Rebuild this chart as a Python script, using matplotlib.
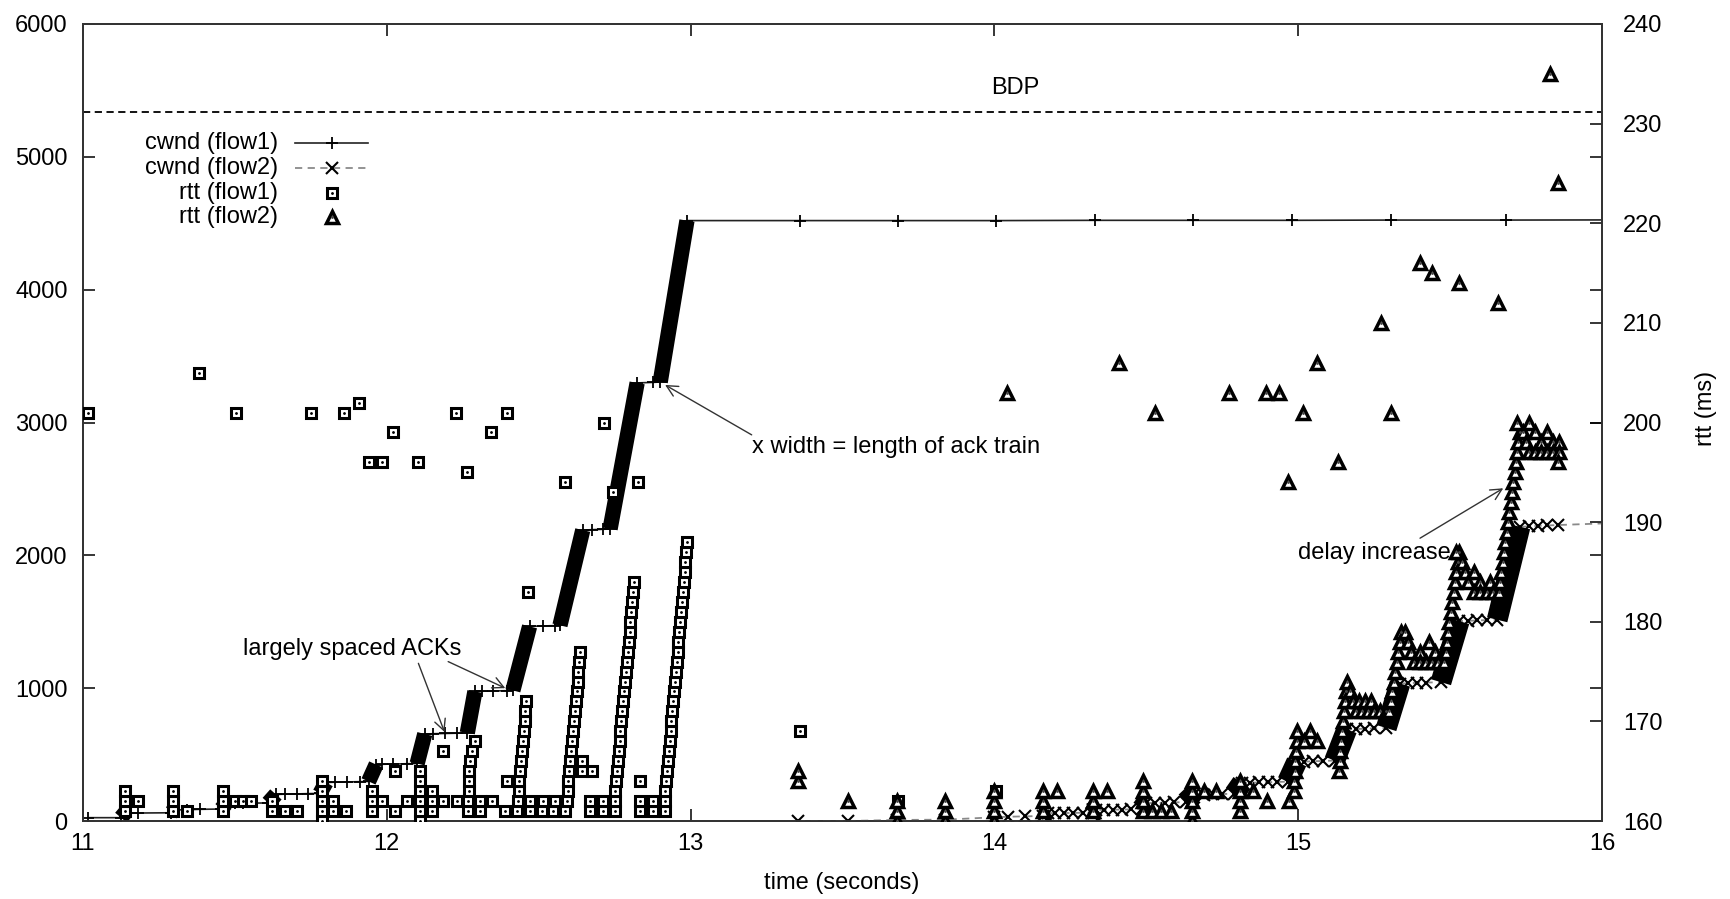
import matplotlib.pyplot as plt

plt.rcParams['font.family'] = ['Liberation Sans', 'DejaVu Sans']
FS = 17

# congestion window of flow 1 (one point per ACK burst)
cwnd1_t = [11.017, 11.125, 11.138, 11.182, 11.29, 11.30, 11.341, 11.385, 11.455,
           11.47, 11.50, 11.527, 11.61, 11.635, 11.665, 11.704, 11.74, 11.78,
           11.80, 11.83, 11.868, 11.912, 11.94, 11.965, 11.985, 12.022, 12.066,
           12.10, 12.125, 12.152, 12.192, 12.231, 12.265, 12.29, 12.313, 12.35,
           12.395, 12.415, 12.47, 12.514, 12.554, 12.57, 12.645, 12.675, 12.712,
           12.735, 12.824, 12.876, 12.90, 12.988, 13.36, 13.683, 14.005, 14.331,
           14.655, 14.98, 15.305, 15.684, 16.0]
cwnd1 = [25, 25, 60, 60, 62, 83, 85, 88, 90,
         130, 132, 134, 136, 200, 202, 204, 206, 208,
         290, 292, 294, 296, 298, 425, 427, 429, 431,
         433, 655, 657, 659, 661, 663, 975, 977, 979,
         981, 983, 1465, 1468, 1471, 1473, 2190, 2193, 2196,
         2199, 3298, 3302, 3305, 4520, 4520, 4520, 4520, 4522,
         4522, 4522, 4524, 4524, 4525]

# congestion window of flow 2
cwnd2_t = [13.353, 13.518, 13.68, 13.837, 14.00, 14.045, 14.10, 14.16,
           14.175, 14.20, 14.23, 14.26, 14.29, 14.32,
           14.335, 14.36, 14.39, 14.42, 14.45, 14.485,
           14.50, 14.53, 14.56, 14.59, 14.63,
           14.655, 14.69, 14.72, 14.75, 14.79,
           14.815, 14.84, 14.87, 14.90, 14.93, 14.965,
           14.995, 15.02, 15.05, 15.08, 15.12,
           15.16, 15.19, 15.22, 15.25, 15.29,
           15.335, 15.36, 15.39, 15.42, 15.47,
           15.53, 15.56, 15.59, 15.62, 15.655,
           15.73, 15.76, 15.79, 15.82, 15.855, 16.0]
cwnd2 = [0, 0, 8, 10, 28, 32, 35, 38,
         60, 60, 60, 61, 62, 62,
         83, 83, 85, 86, 88, 90,
         135, 136, 138, 140, 142,
         196, 198, 200, 203, 205,
         286, 288, 290, 292, 294, 296,
         445, 447, 450, 452, 455,
         690, 692, 695, 698, 700,
         1035, 1037, 1040, 1042, 1045,
         1505, 1507, 1510, 1512, 1515,
         2215, 2218, 2222, 2225, 2228, 2240]

# rtt samples of flow 1 (time s, rtt ms)
rtt1 = [
    (11.016, 201), (11.138, 161), (11.138, 162), (11.138, 163), (11.182, 162),
    (11.297, 161), (11.297, 162), (11.297, 163), (11.341, 161), (11.382, 205),
    (11.462, 161), (11.462, 162), (11.462, 163), (11.50, 162), (11.504, 201),
    (11.528, 162), (11.552, 162), (11.621, 161), (11.621, 162), (11.665, 161),
    (11.703, 161), (11.75, 201), (11.786, 160), (11.786, 161), (11.786, 162),
    (11.786, 163), (11.786, 164), (11.824, 161), (11.824, 162), (11.866, 161),
    (11.859, 201), (11.908, 202), (11.94, 196), (11.95, 161), (11.95, 162),
    (11.95, 163), (11.983, 162), (11.984, 196), (12.02, 199), (12.027, 161),
    (12.027, 165), (12.066, 162), (12.103, 196), (12.11, 160), (12.11, 161),
    (12.11, 162), (12.11, 163), (12.11, 164), (12.11, 165), (12.148, 161),
    (12.148, 162), (12.148, 163), (12.186, 162), (12.186, 167), (12.23, 162),
    (12.228, 201), (12.264, 195), (12.268, 161), (12.268, 162), (12.27, 163),
    (12.27, 164), (12.27, 165), (12.275, 166), (12.28, 167), (12.29, 168),
    (12.307, 161), (12.307, 162), (12.345, 162), (12.343, 199), (12.389, 161),
    (12.395, 164), (12.395, 201), (12.428, 161), (12.433, 162), (12.436, 163),
    (12.436, 164), (12.44, 165), (12.443, 166), (12.446, 167), (12.449, 168),
    (12.452, 169), (12.455, 170), (12.455, 171), (12.458, 172), (12.465, 183),
    (12.471, 161), (12.471, 162), (12.510, 161), (12.515, 162), (12.548, 161),
    (12.554, 162), (12.587, 161), (12.592, 162), (12.595, 163), (12.598, 164),
    (12.601, 165), (12.604, 166), (12.607, 167), (12.61, 168), (12.613, 169),
    (12.616, 170), (12.619, 171), (12.622, 172), (12.625, 173), (12.628, 174),
    (12.631, 175), (12.634, 176), (12.637, 177), (12.587, 194), (12.641, 165),
    (12.641, 166), (12.675, 165), (12.669, 161), (12.669, 162), (12.713, 161),
    (12.713, 162), (12.715, 200), (12.745, 193), (12.751, 161), (12.751, 162),
    (12.751, 163), (12.754, 164), (12.757, 165), (12.760, 166), (12.763, 167),
    (12.766, 168), (12.769, 169), (12.772, 170), (12.775, 171), (12.778, 172),
    (12.781, 173), (12.784, 174), (12.787, 175), (12.790, 176), (12.793, 177),
    (12.796, 178), (12.799, 179), (12.802, 180), (12.805, 181), (12.808, 182),
    (12.811, 183), (12.814, 184), (12.827, 194), (12.833, 161), (12.833, 162),
    (12.833, 164), (12.877, 161), (12.877, 162), (12.916, 161), (12.916, 162),
    (12.916, 163), (12.919, 164), (12.922, 165), (12.925, 166), (12.928, 167),
    (12.931, 168), (12.934, 169), (12.937, 170), (12.940, 171), (12.942, 172),
    (12.945, 173), (12.948, 174), (12.951, 175), (12.954, 176), (12.957, 177),
    (12.960, 178), (12.962, 179), (12.965, 180), (12.968, 181), (12.971, 182),
    (12.974, 183), (12.977, 184), (12.980, 185), (12.982, 186), (12.985, 187),
    (12.988, 188), (13.36, 169), (13.683, 162), (14.005, 163),
]

# rtt samples of flow 2 (time s, rtt ms)
rtt2 = [
    (13.353, 164), (13.353, 165), (13.518, 162), (13.68, 160), (13.68, 161),
    (13.68, 162), (13.837, 160), (13.837, 161), (13.837, 162), (14.00, 160),
    (14.00, 161), (14.00, 162), (14.00, 163), (14.041, 203), (14.16, 161),
    (14.16, 162), (14.16, 163), (14.206, 163), (14.325, 161), (14.325, 162),
    (14.325, 163), (14.37, 163), (14.41, 206), (14.49, 161), (14.49, 162),
    (14.49, 163), (14.49, 164), (14.52, 161), (14.55, 161), (14.58, 161),
    (14.529, 201), (14.65, 160), (14.65, 161), (14.65, 162), (14.65, 163),
    (14.65, 164), (14.69, 163), (14.73, 163), (14.773, 203), (14.81, 161),
    (14.81, 162), (14.81, 163), (14.81, 164), (14.85, 163), (14.897, 162),
    (14.97, 162), (14.894, 203), (14.937, 203), (14.967, 194), (14.985, 163),
    (14.987, 164), (14.989, 165), (14.991, 166), (14.993, 167), (14.995, 168),
    (14.997, 169), (15.016, 201), (15.02, 168), (15.04, 169), (15.062, 168),
    (15.062, 206), (15.131, 196), (15.133, 165), (15.136, 166), (15.139, 167),
    (15.142, 168), (15.145, 169), (15.148, 170), (15.151, 171), (15.154, 172),
    (15.157, 173), (15.160, 174), (15.17, 173), (15.18, 172), (15.19, 171),
    (15.20, 172), (15.21, 171), (15.22, 172), (15.23, 171), (15.24, 172),
    (15.25, 171), (15.27, 171), (15.29, 171), (15.273, 210), (15.305, 201),
    (15.300, 171), (15.305, 172), (15.310, 173), (15.315, 174), (15.320, 175),
    (15.325, 176), (15.330, 177), (15.335, 178), (15.340, 179), (15.35, 179),
    (15.36, 178), (15.37, 177), (15.38, 176), (15.40, 177), (15.40, 176),
    (15.42, 176), (15.43, 178), (15.44, 176), (15.45, 177), (15.46, 176),
    (15.40, 216), (15.44, 215), (15.53, 214), (15.480, 176), (15.485, 177),
    (15.489, 178), (15.494, 179), (15.498, 180), (15.503, 181), (15.507, 182),
    (15.512, 183), (15.516, 184), (15.521, 185), (15.525, 186), (15.530, 187),
    (15.52, 187), (15.54, 186), (15.55, 185), (15.56, 184), (15.58, 185),
    (15.58, 183), (15.60, 184), (15.60, 183), (15.62, 183), (15.63, 184),
    (15.64, 183), (15.66, 183), (15.659, 212), (15.660, 183), (15.664, 184),
    (15.669, 185), (15.673, 186), (15.677, 187), (15.682, 188), (15.686, 189),
    (15.690, 190), (15.695, 191), (15.699, 192), (15.703, 193), (15.708, 194),
    (15.712, 195), (15.716, 196), (15.720, 197), (15.725, 198), (15.729, 199),
    (15.72, 200), (15.74, 199), (15.75, 198), (15.76, 200), (15.76, 197),
    (15.78, 199), (15.78, 197), (15.80, 198), (15.80, 197), (15.82, 199),
    (15.82, 197), (15.84, 198), (15.84, 197), (15.86, 198), (15.86, 197),
    (15.855, 196), (15.829, 235), (15.855, 224),
]

bdp = 5335
x_ticks = [11, 12, 13, 14, 15, 16]
cwnd_ticks = [0, 1000, 2000, 3000, 4000, 5000, 6000]
rtt_ticks = [160, 170, 180, 190, 200, 210, 220, 230, 240]


def draw_ramps(axis, ts, vs, width, min_slope=1200):
    # steep window growth shows up as a solid band of overlapping points
    for i in range(len(ts) - 1):
        dt = ts[i + 1] - ts[i]
        if dt > 0 and (vs[i + 1] - vs[i]) / dt > min_slope:
            axis.plot(ts[i:i + 2], vs[i:i + 2], color='black', lw=width,
                      solid_capstyle='butt', zorder=3)


fig = plt.figure(figsize=(17.31, 8.99), dpi=100)
ax = fig.add_axes([83 / 1731, 78 / 899, 1519 / 1731, 797 / 899])
ax2 = ax.twinx()

ax.set_xlim(11, 16)
ax.set_ylim(0, 6000)
ax2.set_ylim(160, 240)

# BDP reference line
ax.axhline(bdp, color='black', lw=1.3, linestyle=(0, (4, 2.5)), zorder=2)
ax.text(14.07, 5520, 'BDP', ha='center', va='center', fontsize=FS)

# flow 1 window (last point only carries the line to the edge)
ax.plot(cwnd1_t, cwnd1, color='#222222', lw=1.2, marker='+', ms=9,
        mew=1.3, mec='black', markevery=list(range(len(cwnd1_t) - 1)), zorder=3)
draw_ramps(ax, cwnd1_t, cwnd1, 11)

# flow 2 window
ax.plot(cwnd2_t, cwnd2, color='#8a8a8a', lw=1.3, linestyle=(0, (4, 3)),
        marker='x', ms=8, mew=1.5, mec='black',
        markevery=list(range(len(cwnd2_t) - 1)), zorder=3)
draw_ramps(ax, cwnd2_t, cwnd2, 15)

# rtt samples on the right axis
r1_t = [p[0] for p in rtt1]
r1_v = [p[1] for p in rtt1]
r2_t = [p[0] for p in rtt2]
r2_v = [p[1] for p in rtt2]
ax2.plot(r1_t, r1_v, ls='none', marker='s', ms=7.5, mfc='white', mec='black',
         mew=2.2, zorder=4)
ax2.plot(r1_t, r1_v, ls='none', marker='.', ms=2, color='black', zorder=4)
ax2.plot(r2_t, r2_v, ls='none', marker='^', ms=8.5, mfc='white', mec='black',
         mew=2.5, zorder=4)
ax2.plot(r2_t, r2_v, ls='none', marker='.', ms=2, color='#444444', zorder=4)

# annotations
arrow = dict(arrowstyle='->', color='#333333', lw=1, shrinkA=0, shrinkB=0,
             mutation_scale=20)
ax.text(11.885, 1295, 'largely spaced ACKs', ha='center', va='center', fontsize=FS)
ax.annotate('', xy=(12.19, 670), xytext=(12.104, 1187), arrowprops=arrow)
ax.annotate('', xy=(12.39, 1000), xytext=(12.202, 1200), arrowprops=arrow)
ax.text(13.202, 2816, 'x width = length of ack train', ha='left', va='center',
        fontsize=FS)
ax.annotate('', xy=(12.916, 3283), xytext=(13.201, 2907), arrowprops=arrow)
ax.text(14.999, 2018, 'delay increase', ha='left', va='center', fontsize=FS)
ax.annotate('', xy=(15.675, 2505), xytext=(15.401, 2129), arrowprops=arrow)

# key, labels right-aligned in front of the samples
key_y = [0.8507, 0.8193, 0.7880, 0.7578]
key_labels = ['cwnd (flow1)', 'cwnd (flow2)', 'rtt (flow1)', 'rtt (flow2)']
for y, lab in zip(key_y, key_labels):
    ax.text(0.1284, y, lab, transform=ax.transAxes, ha='right', va='center',
            fontsize=FS)
ax.plot([0.1396, 0.1876], [key_y[0]] * 2, transform=ax.transAxes,
        color='#222222', lw=1.2)
ax.plot([0.1636], [key_y[0]], transform=ax.transAxes, marker='+', ms=9,
        mew=1.3, color='black')
ax.plot([0.1396, 0.1876], [key_y[1]] * 2, transform=ax.transAxes,
        color='#8a8a8a', lw=1.3, linestyle=(0, (4, 3)))
ax.plot([0.1636], [key_y[1]], transform=ax.transAxes, marker='x', ms=8,
        mew=1.5, color='black')
ax.plot([0.1636], [key_y[2]], transform=ax.transAxes, marker='s', ms=7.5,
        mfc='white', mec='black', mew=2.2)
ax.plot([0.1636], [key_y[2]], transform=ax.transAxes, marker='.', ms=2,
        color='black')
ax.plot([0.1636], [key_y[3]], transform=ax.transAxes, marker='^', ms=8.5,
        mfc='white', mec='black', mew=2.5)
ax.plot([0.1636], [key_y[3]], transform=ax.transAxes, marker='.', ms=2,
        color='#444444')

# ticks and frame
ax.set_xticks(x_ticks)
ax.set_yticks(cwnd_ticks)
ax2.set_yticks(rtt_ticks)
ax.tick_params(axis='x', direction='in', top=True, length=8.5, width=1.1,
               pad=9, labelsize=FS)
ax.tick_params(axis='y', direction='in', left=True, right=True, length=8.5,
               width=1.1, pad=11, labelsize=FS, labelright=False)
ax2.tick_params(axis='y', direction='in', right=True, length=8.5, width=1.1,
                pad=15, labelsize=FS)
for a in (ax, ax2):
    for s in a.spines.values():
        s.set_linewidth(1.3)
        s.set_color('#333333')

fig.text(842 / 1731, 1 - 883 / 899, 'time (seconds)', ha='center', va='center',
         fontsize=FS)
fig.text(1706 / 1731, 1 - 408 / 899, 'rtt (ms)', ha='center', va='center',
         rotation=90, fontsize=FS)

fig.savefig('out.png', dpi=100)
